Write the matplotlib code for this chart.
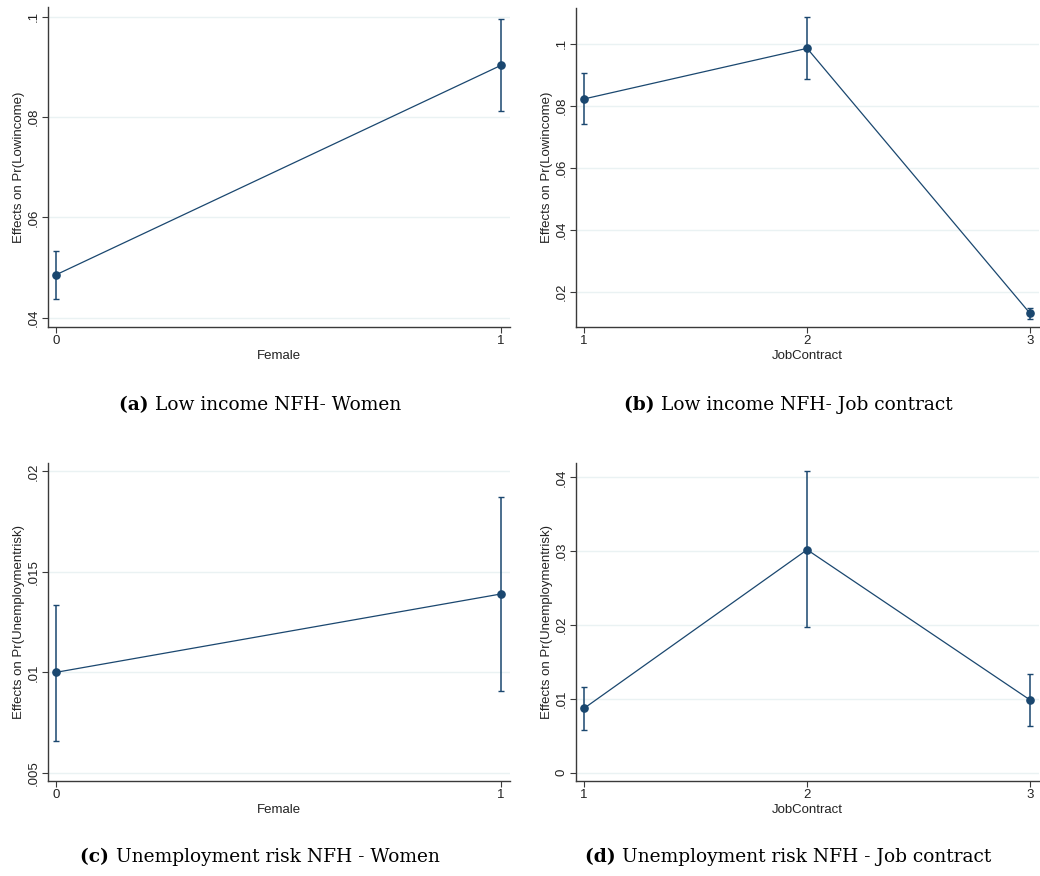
import matplotlib
matplotlib.use("Agg")
import matplotlib.pyplot as plt

# Predicted effects with 95% confidence intervals
female_levels = [0, 1]
jobcontract_levels = [1, 2, 3]

lowinc_female = [0.0486, 0.0903]
lowinc_female_lo = [0.0438, 0.0811]
lowinc_female_hi = [0.0533, 0.0996]

lowinc_job = [0.0822, 0.0985, 0.0131]
lowinc_job_lo = [0.0740, 0.0886, 0.0114]
lowinc_job_hi = [0.0904, 0.1087, 0.0149]

unemp_female = [0.0100, 0.0139]
unemp_female_lo = [0.00656, 0.00908]
unemp_female_hi = [0.01337, 0.0187]

unemp_job = [0.00874, 0.0302, 0.00986]
unemp_job_lo = [0.00576, 0.0197, 0.00639]
unemp_job_hi = [0.01167, 0.0408, 0.01334]

lowinc_female_yticks = [0.04, 0.06, 0.08, 0.10]
lowinc_female_ylabels = [".04", ".06", ".08", ".1"]
lowinc_job_yticks = [0.02, 0.04, 0.06, 0.08, 0.10]
lowinc_job_ylabels = [".02", ".04", ".06", ".08", ".1"]
unemp_female_yticks = [0.005, 0.010, 0.015, 0.020]
unemp_female_ylabels = [".005", ".01", ".015", ".02"]
unemp_job_yticks = [0.0, 0.01, 0.02, 0.03, 0.04]
unemp_job_ylabels = ["0", ".01", ".02", ".03", ".04"]

captions = [
    ("(a)", "Low income NFH- Women"),
    ("(b)", "Low income NFH- Job contract"),
    ("(c)", "Unemployment risk NFH - Women"),
    ("(d)", "Unemployment risk NFH - Job contract"),
]

LINE = "#1a476f"
GRID = "#eaf2f3"
SPINE = "#3a3a3a"
TEXT = "#222222"
SANS = ["Liberation Sans", "DejaVu Sans"]
SERIF = ["DejaVu Serif"]

fig = plt.figure(figsize=(10.40, 8.76), dpi=100)
fig.patch.set_facecolor("white")


def panel(rect, x, y, lo, hi, xlim, ylim, yticks, ylabels, xlabel, ylabel):
    ax = fig.add_axes(rect)
    yerr = [[v - l for v, l in zip(y, lo)], [h - v for v, h in zip(y, hi)]]
    ax.errorbar(x, y, yerr=yerr, fmt="none", ecolor=LINE, elinewidth=1.1,
                capsize=2.3, capthick=1.0, zorder=3)
    ax.plot(x, y, color=LINE, lw=0.9, marker="o", ms=5.2,
            mfc=LINE, mec=LINE, zorder=4)
    ax.set_xlim(*xlim)
    ax.set_ylim(*ylim)
    ax.set_xticks(x)
    ax.set_xticklabels([str(v) for v in x], fontsize=9.5, color=TEXT,
                       family=SANS)
    ax.set_yticks(yticks)
    ax.set_yticklabels(ylabels, fontsize=9.5, rotation=90, va="center",
                       color=TEXT, family=SANS)
    for t in yticks:
        ax.axhline(t, color=GRID, lw=1.0, zorder=1)
    ax.set_xlabel(xlabel, fontsize=9.5, labelpad=2, color=TEXT, family=SANS)
    ax.set_ylabel(ylabel, fontsize=9.5, labelpad=2, color=TEXT, family=SANS)
    for s in ("top", "right"):
        ax.spines[s].set_visible(False)
    for s in ("left", "bottom"):
        ax.spines[s].set_color(SPINE)
        ax.spines[s].set_linewidth(1.0)
    ax.tick_params(axis="both", direction="out", length=4, width=0.8,
                   color=SPINE, pad=2)
    return ax


panel([0.0462, 0.6267, 0.4442, 0.3653], female_levels, lowinc_female,
      lowinc_female_lo, lowinc_female_hi, (-0.018, 1.02), (0.0382, 0.1019),
      lowinc_female_yticks, lowinc_female_ylabels, "Female",
      "Effects on Pr(Lowincome)")
panel([0.5538, 0.6270, 0.4452, 0.3639], jobcontract_levels, lowinc_job,
      lowinc_job_lo, lowinc_job_hi, (0.963, 3.04), (0.0088, 0.1115),
      lowinc_job_yticks, lowinc_job_ylabels, "JobContract",
      "Effects on Pr(Lowincome)")
panel([0.0462, 0.1084, 0.4442, 0.3627], female_levels, unemp_female,
      unemp_female_lo, unemp_female_hi, (-0.018, 1.02), (0.00459, 0.0204),
      unemp_female_yticks, unemp_female_ylabels, "Female",
      "Effects on Pr(Unemploymentrisk)")
panel([0.5538, 0.1084, 0.4452, 0.3627], jobcontract_levels, unemp_job,
      unemp_job_lo, unemp_job_hi, (0.963, 3.04), (-0.00112, 0.0419),
      unemp_job_yticks, unemp_job_ylabels, "JobContract",
      "Effects on Pr(Unemploymentrisk)")

# Subfigure captions, centred under each panel
caption_pos = [(0.25, 1 - 405 / 876), (0.758, 1 - 405 / 876),
               (0.25, 1 - 857 / 876), (0.758, 1 - 857 / 876)]
for (tag, text), (cx, cy) in zip(captions, caption_pos):
    t1 = fig.text(0, cy, tag + " ", fontsize=13.4, fontweight="bold",
                  family=SERIF, va="center", ha="left")
    t2 = fig.text(0, cy, text, fontsize=13.4, family=SERIF, va="center",
                  ha="left")
    fig.canvas.draw()
    r = fig.canvas.get_renderer()
    w1 = t1.get_window_extent(r).width / fig.bbox.width
    w2 = t2.get_window_extent(r).width / fig.bbox.width
    x0 = cx - (w1 + w2) / 2
    t1.set_x(x0)
    t2.set_x(x0 + w1)

fig.savefig("out.png", dpi=100)
